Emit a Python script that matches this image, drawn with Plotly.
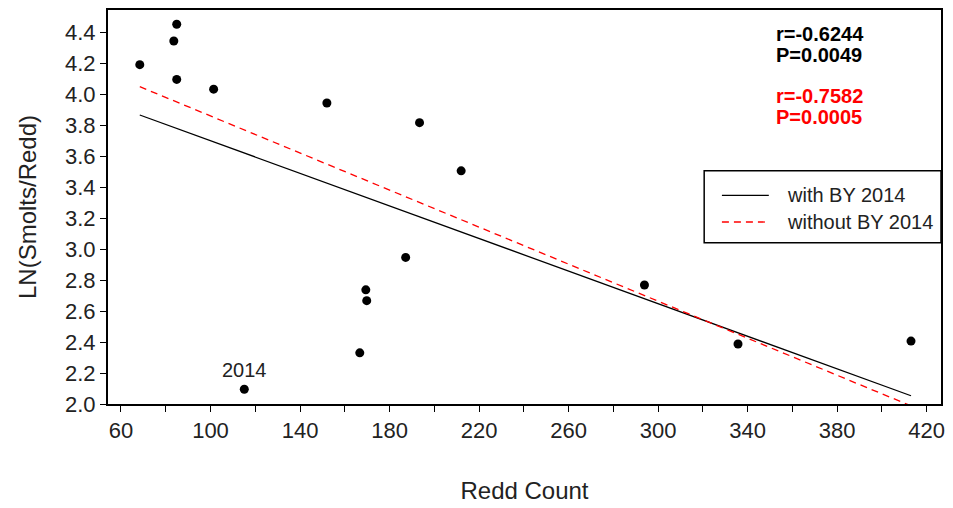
import numpy as np
import plotly.graph_objects as go

# Data
redd_count = [68.4, 84.9, 83.6, 84.9, 101.4, 152.0, 193.4, 212.0, 187.2,
              169.4, 169.8, 166.7, 115.1, 293.9, 335.7, 413.0]
ln_smolts_per_redd = [4.19, 4.451, 4.343, 4.095, 4.032, 3.943, 3.816, 3.505, 2.946,
                      2.737, 2.667, 2.33, 2.095, 2.768, 2.387, 2.406]
brood_year_label = ["", "", "", "", "", "", "", "", "", "", "", "", "2014", "", "", ""]
excluded_year = "2014"

stats_with = ["r=-0.6244", "P=0.0049"]
stats_without = ["r=-0.7582", "P=0.0005"]
legend_names = ["with BY 2014", "without BY 2014"]

x_ticks = list(range(60, 421, 40))
x_minor = list(range(80, 421, 40))
y_ticks = [round(2.0 + 0.2 * i, 1) for i in range(13)]

x = np.array(redd_count)
y = np.array(ln_smolts_per_redd)
mask = np.array([lab != excluded_year for lab in brood_year_label])

fit_all = np.polyfit(x, y, 1)
fit_excl = np.polyfit(x[mask], y[mask], 1)
xline = np.array([x.min(), x.max()])

FONT = "Liberation Sans, Arial, sans-serif"
line_styles = [dict(color="black", width=1.3, dash="solid"),
               dict(color="red", width=1.3, dash="7px,5px")]

fig = go.Figure()
fig.add_trace(go.Scatter(
    x=redd_count, y=ln_smolts_per_redd, mode="markers",
    marker=dict(color="black", size=9), showlegend=False, hoverinfo="x+y"))
fig.add_trace(go.Scatter(
    x=xline, y=np.polyval(fit_all, xline), mode="lines",
    line=line_styles[0], name=legend_names[0], showlegend=False))
fig.add_trace(go.Scatter(
    x=xline, y=np.polyval(fit_excl, xline), mode="lines",
    line=line_styles[1], name=legend_names[1], showlegend=False))

# label for the 2014 point
for xi, yi, lab in zip(redd_count, ln_smolts_per_redd, brood_year_label):
    if lab:
        fig.add_annotation(x=xi, y=yi, text=lab, showarrow=False, yshift=19,
                           font=dict(family=FONT, size=20, color="#222"))

ann_x = 0.80
for i, t in enumerate(stats_with):
    fig.add_annotation(xref="paper", yref="paper", x=ann_x, y=0.939 - i * 0.052,
                       xanchor="left", yanchor="middle", showarrow=False,
                       text="<b>%s</b>" % t, font=dict(family=FONT, size=20, color="black"))
for i, t in enumerate(stats_without):
    fig.add_annotation(xref="paper", yref="paper", x=ann_x, y=0.781 - i * 0.052,
                       xanchor="left", yanchor="middle", showarrow=False,
                       text="<b>%s</b>" % t, font=dict(family=FONT, size=20, color="red"))

# legend box (drawn in paper coordinates, like the original's boxed key)
leg_x0, leg_x1, leg_y0, leg_y1 = 0.7157, 1.0, 0.4095, 0.592
fig.add_shape(type="rect", xref="paper", yref="paper",
              x0=leg_x0, x1=leg_x1, y0=leg_y0, y1=leg_y1,
              line=dict(color="black", width=1.5), fillcolor="white", layer="above")
leg_rows = [0.5293, 0.4619]
for name, style, ly in zip(legend_names, line_styles, leg_rows):
    fig.add_shape(type="line", xref="paper", yref="paper",
                  x0=0.737, x1=0.7933, y0=ly, y1=ly, line=style, layer="above")
    fig.add_annotation(xref="paper", yref="paper", x=0.8124, y=ly,
                       xanchor="left", yanchor="middle", showarrow=False,
                       text=name, font=dict(family=FONT, size=20, color="#222"))

fig.update_layout(
    width=953, height=508,
    margin=dict(l=108, r=8, t=10, b=98),
    paper_bgcolor="white", plot_bgcolor="white",
    font=dict(family=FONT, size=22, color="#222"),
    showlegend=False,
    xaxis=dict(range=[54.2, 426.4], tickvals=x_ticks, ticks="outside", ticklen=6,
               tickcolor="black", showline=True, linecolor="black", linewidth=2,
               mirror=True, showgrid=False, zeroline=False,
               minor=dict(tickvals=x_minor, ticks="outside",
                          ticklen=6, tickcolor="black"),
               title=dict(text="Redd Count", standoff=40,
                          font=dict(family=FONT, size=24))),
    yaxis=dict(range=[2.0, 4.543], tickvals=y_ticks, tickformat=".1f",
               ticks="outside", ticklen=6, tickcolor="black", showline=True,
               linecolor="black", linewidth=2, mirror=True, showgrid=False,
               zeroline=False,
               title=dict(text="LN(Smolts/Redd)", standoff=22,
                          font=dict(family=FONT, size=24))),
)

fig.write_html("out.html", config={"displayModeBar": False},
               post_script="document.body.style.margin='0';document.body.style.overflow='hidden';")
